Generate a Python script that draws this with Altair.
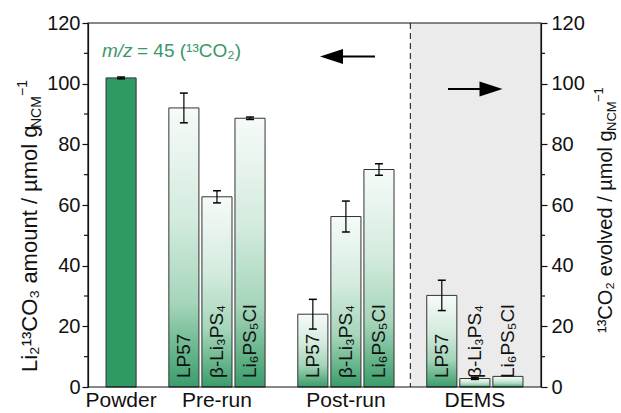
import altair as alt
import pandas as pd

# ---------------- data ----------------
groups = ["Powder", "Pre-run", "Pre-run", "Pre-run", "Post-run", "Post-run", "Post-run", "DEMS", "DEMS", "DEMS"]
samples = ["", "LP57", "β-Li₃PS₄", "Li₆PS₅Cl", "LP57", "β-Li₃PS₄", "Li₆PS₅Cl", "LP57", "β-Li₃PS₄", "Li₆PS₅Cl"]
values = [101.9, 92.0, 62.7, 88.6, 24.0, 56.2, 71.7, 30.2, 2.8, 3.5]
errors = [0.3, 4.9, 2.0, 0.4, 4.9, 5.1, 1.9, 5.0, 0.3, 0.0]
y_ticks = [0, 20, 40, 60, 80, 100, 120]
minor_ticks = [10, 30, 50, 70, 90, 110]

# ---------------- layout ----------------
W, H = 453, 364
FONT = "Liberation Sans, Arial, Helvetica, sans-serif"
INK = "#111111"
GREEN = "#2f9a63"
GAP = 0.9
HALF = 0.455
CAP = 0.12

pos = []
p = 0.0
for i, g in enumerate(groups):
    p += 1.0 if (i == 0 or g == groups[i - 1]) else 1.0 + GAP
    pos.append(p)
XMAX = pos[-1] + 1.0

df = pd.DataFrame({"group": groups, "sample": samples, "value": values, "err": errors, "pos": pos})
df["x1"] = df["pos"] - HALF
df["x2"] = df["pos"] + HALF
df["lo"] = df["value"] - df["err"]
df["hi"] = df["value"] + df["err"]
df["c1"] = df["pos"] - CAP
df["c2"] = df["pos"] + CAP

first_dems = df[df.group == "DEMS"].pos.min()
last_post = df[df.group == "Post-run"].pos.max()
sep = (first_dems + last_post) / 2.0

cat_df = df.groupby("group", sort=False)["pos"].mean().reset_index()

xs = alt.Scale(domain=[0, XMAX], nice=False, zero=False)
ys = alt.Scale(domain=[0, 120], nice=False, zero=True)

dummy = pd.DataFrame({"a": [0]})


def yaxis(orient, pad):
    return alt.Axis(
        orient=orient, values=y_ticks, title=None, grid=False,
        tickSize=6, tickColor=INK, tickWidth=1.2,
        domainColor=INK, domainWidth=1.2,
        labelFont=FONT, labelFontSize=20, labelColor=INK, labelPadding=pad,
    )


AX_L = yaxis("left", 2)
AX_R = yaxis("right", 4)

# ---------------- left group ----------------
region = pd.DataFrame({"a": [sep], "b": [XMAX]})
bg = alt.Chart(region).mark_rect(color="#ebebeb").encode(
    x=alt.X("a:Q", scale=xs, axis=None), x2="b:Q",
    y=alt.value(0), y2=alt.value(H),
)
dash = alt.Chart(region).mark_rule(color="#333333", strokeDash=[6, 4], strokeWidth=1.2).encode(
    x=alt.X("a:Q", scale=xs, axis=None), y=alt.value(0), y2=alt.value(H),
)

powder = alt.Chart(df).transform_filter("datum.group === 'Powder'").mark_bar(
    color=GREEN, stroke="#333333", strokeWidth=1
).encode(
    x=alt.X("x1:Q", scale=xs, axis=None), x2="x2:Q",
    y=alt.Y("value:Q", scale=ys, axis=AX_L), y2=alt.datum(0),
)

grad = alt.Gradient(
    gradient="linear", x1=0, x2=0, y1=0, y2=1,
    stops=[
        alt.GradientStop(color="#f6fbf8", offset=0),
        alt.GradientStop(color="#d3ebde", offset=0.4),
        alt.GradientStop(color="#a5d5ba", offset=0.7),
        alt.GradientStop(color="#3a9d6a", offset=1),
    ],
)

bars_l = alt.Chart(df).transform_filter(
    "datum.group === 'Pre-run' || datum.group === 'Post-run'"
).mark_bar(color=grad, stroke="#333333", strokeWidth=1).encode(
    x=alt.X("x1:Q", scale=xs, axis=None), x2="x2:Q",
    y=alt.Y("value:Q", scale=ys, axis=AX_L), y2=alt.datum(0),
)


def errs(filt, ax):
    base = alt.Chart(df).transform_filter(filt + " && datum.err > 0")
    v = base.mark_rule(color="black", strokeWidth=1.2).encode(
        x=alt.X("pos:Q", scale=xs, axis=None),
        y=alt.Y("lo:Q", scale=ys, axis=ax), y2="hi:Q",
    )
    top = base.mark_rule(color="black", strokeWidth=1.5).encode(
        x=alt.X("c1:Q", scale=xs, axis=None), x2="c2:Q",
        y=alt.Y("hi:Q", scale=ys, axis=ax),
    )
    bot = base.mark_rule(color="black", strokeWidth=1.5).encode(
        x=alt.X("c1:Q", scale=xs, axis=None), x2="c2:Q",
        y=alt.Y("lo:Q", scale=ys, axis=ax),
    )
    return [v, top, bot]


minor_df = pd.DataFrame({"v": minor_ticks})
minor_l = alt.Chart(minor_df).mark_rule(color=INK, strokeWidth=1.2).encode(
    x=alt.value(-4), x2=alt.value(0), y=alt.Y("v:Q", scale=ys, axis=AX_L),
)

left = alt.layer(bg, dash, powder, bars_l, *errs("datum.group !== 'DEMS'", AX_L), minor_l)

# ---------------- right group ----------------
bars_r = alt.Chart(df).transform_filter("datum.group === 'DEMS'").mark_bar(
    color=grad, stroke="#333333", strokeWidth=1
).encode(
    x=alt.X("x1:Q", scale=xs, axis=None), x2="x2:Q",
    y=alt.Y("value:Q", scale=ys, axis=AX_R), y2=alt.datum(0),
)
minor_r = alt.Chart(minor_df).mark_rule(color=INK, strokeWidth=1.2).encode(
    x=alt.value(W), x2=alt.value(W + 4), y=alt.Y("v:Q", scale=ys, axis=AX_R),
)
right = alt.layer(bars_r, *errs("datum.group === 'DEMS'", AX_R), minor_r)

# ---------------- texts ----------------
bar_labels = alt.Chart(df).transform_filter("datum.sample !== ''").mark_text(
    angle=270, align="left", baseline="middle", font=FONT, fontSize=19, color=INK
).encode(
    x=alt.X("pos:Q", scale=xs, axis=None), y=alt.value(H - 9), text="sample:N",
)

cat_labels = alt.Chart(cat_df).mark_text(
    align="center", baseline="alphabetic", font=FONT, fontSize=21, color=INK
).encode(
    x=alt.X("pos:Q", scale=xs, axis=None), y=alt.value(H + 20), text="group:N",
)


def txt(s, x, y, size, angle=0, style="normal", color=INK, align="left"):
    return alt.Chart(dummy).mark_text(
        text=s, angle=angle, align=align, baseline="alphabetic",
        font=FONT, fontSize=size, fontStyle=style, color=color,
    ).encode(x=alt.value(x), y=alt.value(y))


TS = 22
SS = 14
# left title (rotated)
lx, ly = -51, 349
w1 = 244
w2 = 32
left_title = [
    txt("Li₂¹³CO₃ amount / µmol g", lx, ly, TS, angle=270),
    txt("NCM", lx + 4, ly - w1, SS, angle=270),
    txt("−1", lx - 10, ly - w1 - w2, SS, angle=270),
]
# right title (rotated)
RTS = 20
rx, ry = 524, 310
rw1 = 202
rw2 = 29
right_title = [
    txt("¹³CO₂ evolved / µmol g", rx, ry, RTS, angle=270),
    txt("NCM", rx + 4, ry - rw1, 13, angle=270),
    txt("−1", rx - 9, ry - rw1 - rw2, 13, angle=270),
]

ANN = "#3a9868"
annotation = [
    txt("m/z", 14, 34, 19, style="italic", color=ANN),
    txt("= 45 (¹³CO₂)", 49, 34, 19, color=ANN),
]

LEFT_HEAD = "M-1,0L1,-0.65L1,0.65Z"
RIGHT_HEAD = "M1,0L-1,-0.65L-1,0.65Z"
arrows = [
    alt.Chart(dummy).mark_rule(color="black", strokeWidth=2).encode(
        x=alt.value(247), x2=alt.value(287), y=alt.value(33.5)),
    alt.Chart(dummy).mark_point(shape=LEFT_HEAD, filled=True, size=529, color="black", opacity=1).encode(
        x=alt.value(243.5), y=alt.value(33.5)),
    alt.Chart(dummy).mark_rule(color="black", strokeWidth=2).encode(
        x=alt.value(360), x2=alt.value(396), y=alt.value(66)),
    alt.Chart(dummy).mark_point(shape=RIGHT_HEAD, filled=True, size=529, color="black", opacity=1).encode(
        x=alt.value(403), y=alt.value(66)),
]

frame = alt.Chart(dummy).mark_rect(filled=False, stroke=INK, strokeWidth=1.2).encode(
    x=alt.value(0), x2=alt.value(W), y=alt.value(0), y2=alt.value(H),
)

texts = alt.layer(bar_labels, cat_labels, *left_title, *right_title, *annotation, *arrows, frame)

chart = alt.layer(left, right, texts).resolve_scale(y="independent").properties(
    width=W, height=H,
    padding={"left": 88, "top": 23, "right": 80, "bottom": 26},
    autosize=alt.AutoSizeParams(type="none"),
    background="white",
).configure_view(stroke=None)

chart.save("out.html", embed_options={"renderer": "svg", "actions": False})
